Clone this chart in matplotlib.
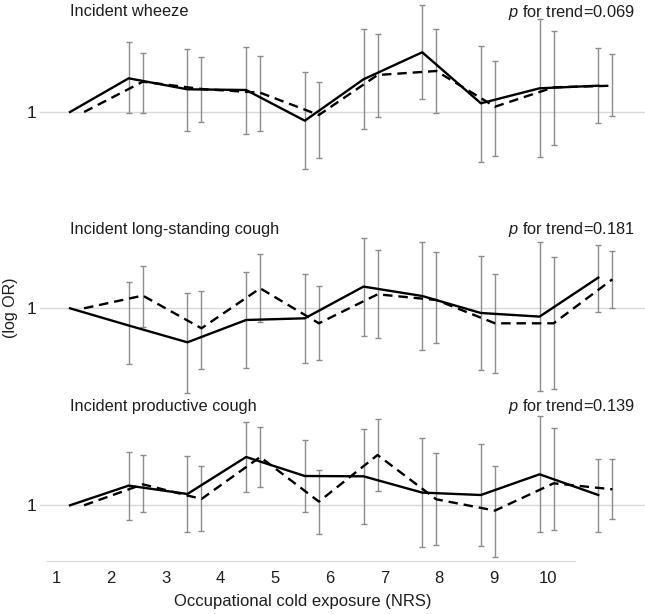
import numpy as np
import matplotlib
matplotlib.use('Agg')
import matplotlib.pyplot as plt

plt.rcParams['font.family'] = ['Liberation Sans', 'DejaVu Sans']
plt.rcParams['mathtext.fontset'] = 'custom'
plt.rcParams['mathtext.it'] = 'Liberation Sans:italic'
plt.rcParams['mathtext.rm'] = 'Liberation Sans'

# occupational cold exposure, NRS 1..10 (1 = reference)
nrs = np.arange(1, 11)
tick_labels = [str(i) for i in nrs]

# log OR, solid = model 1, dashed = model 2
wheeze_solid = np.array([0, 0.337, 0.227, 0.22, -0.087, 0.327, 0.597, 0.087, 0.237, 0.263])
wheeze_solid_lo = np.array([0, -0.013, -0.187, -0.22, -0.573, -0.173, 0.127, -0.503, -0.447, -0.113])
wheeze_solid_hi = np.array([0, 0.697, 0.63, 0.653, 0.403, 0.827, 1.067, 0.663, 0.927, 0.637])
wheeze_dash = np.array([0, 0.303, 0.23, 0.193, -0.03, 0.37, 0.41, 0.053, 0.247, 0.263])
wheeze_dash_lo = np.array([0, -0.007, -0.097, -0.19, -0.463, -0.047, -0.007, -0.437, -0.333, -0.04])
wheeze_dash_hi = np.array([0, 0.593, 0.553, 0.563, 0.303, 0.783, 0.827, 0.513, 0.81, 0.577])

cough_solid = np.array([0, -0.172, -0.34, -0.117, -0.10, 0.217, 0.123, -0.047, -0.083, 0.307])
cough_solid_lo = np.array([0, -0.56, -0.843, -0.60, -0.543, -0.277, -0.417, -0.617, -0.823, -0.04])
cough_solid_hi = np.array([0, 0.26, 0.157, 0.36, 0.34, 0.70, 0.667, 0.523, 0.66, 0.633])
cough_dash = np.array([0, 0.127, -0.20, 0.20, -0.15, 0.14, 0.083, -0.15, -0.15, 0.29])
cough_dash_lo = np.array([0, -0.183, -0.607, -0.14, -0.52, -0.30, -0.35, -0.65, -0.81, 0.0])
cough_dash_hi = np.array([0, 0.427, 0.177, 0.547, 0.22, 0.583, 0.567, 0.343, 0.517, 0.577])

prod_solid = np.array([0, 0.197, 0.113, 0.483, 0.293, 0.29, 0.127, 0.103, 0.31, 0.103])
prod_solid_lo = np.array([0, -0.147, -0.27, 0.133, -0.07, -0.183, -0.413, -0.407, -0.27, -0.263])
prod_solid_hi = np.array([0, 0.537, 0.493, 0.83, 0.65, 0.76, 0.67, 0.617, 0.893, 0.463])
prod_dash = np.array([0, 0.21, 0.063, 0.483, 0.037, 0.503, 0.06, -0.053, 0.22, 0.16])
prod_dash_lo = np.array([0, -0.07, -0.257, 0.187, -0.287, 0.143, -0.397, -0.517, -0.25, -0.137])
prod_dash_hi = np.array([0, 0.503, 0.39, 0.78, 0.357, 0.86, 0.52, 0.397, 0.77, 0.46])

titles = ['Incident wheeze', 'Incident long-standing cough', 'Incident productive cough']
p_trend = ['0.069', '0.181', '0.139']

W, H = 645, 614
PX_UNIT = 100.0      # pixels per log OR unit
X0, DX = 70.0, 58.7  # pixel of NRS 1 and step
SHIFT = 0.24
TXT = '#1e1e1e'

fig = plt.figure(figsize=(W / 100, H / 100), dpi=100)


def px_axes(left, top, right, bottom):
    return fig.add_axes([left / W, 1 - bottom / H, (right - left) / W, (bottom - top) / H])


panels = [
    (wheeze_solid, wheeze_solid_lo, wheeze_solid_hi, wheeze_dash, wheeze_dash_lo, wheeze_dash_hi, 0, 200, 112.0, 12),
    (cough_solid, cough_solid_lo, cough_solid_hi, cough_dash, cough_dash_lo, cough_dash_hi, 200, 398, 308.3, 230),
    (prod_solid, prod_solid_lo, prod_solid_hi, prod_dash, prod_dash_lo, prod_dash_hi, 398, 561, 505.3, 406),
]

xlim = (1 + (40 - X0) / DX, 1 + (W - X0) / DX)

for i, (s, slo, shi, d, dlo, dhi, top, bot, ref, ty) in enumerate(panels):
    ax = px_axes(40, top, W, bot)
    ax.set_xlim(*xlim)
    ax.set_ylim(-(bot - ref) / PX_UNIT, (ref - top) / PX_UNIT)
    for sp in ax.spines.values():
        sp.set_visible(False)
    ax.set_xticks([])
    ax.set_yticks([0])
    ax.set_yticklabels(['1'])
    ax.tick_params(axis='y', length=0, pad=2.5, labelsize=12.5, labelcolor=TXT)

    ax.axhline(0, color='#d9d9d9', lw=1, zorder=1)

    ax.errorbar(nrs[1:], s[1:], yerr=[s[1:] - slo[1:], shi[1:] - s[1:]], fmt='none',
                ecolor='#8c8c8c', elinewidth=1, capsize=2, capthick=1, zorder=2)
    ax.errorbar(nrs[1:] + SHIFT, d[1:], yerr=[d[1:] - dlo[1:], dhi[1:] - d[1:]], fmt='none',
                ecolor='#8c8c8c', elinewidth=1, capsize=2, capthick=1, zorder=2)
    ax.plot(nrs, s, color='black', lw=1.7, zorder=3)
    ax.plot(nrs + SHIFT, d, color='black', lw=1.7, ls=(0, (4, 2.5)), zorder=3)

    yf = (bot - ty) / (bot - top)
    tr = ax.get_xaxis_transform()
    ax.text(1.0, yf, titles[i], transform=tr, ha='left', va='center', fontsize=11.8, color=TXT)
    ax.text(1 + (635 - X0) / DX, yf, r'$p$ for trend=' + p_trend[i], transform=tr,
            ha='right', va='center', fontsize=11.8, color=TXT)

# category axis at the bottom (labels are spaced on their own grid)
axx = fig.add_axes([47 / W, 1 - 561 / H, (575 - 47) / W, 0.0001])
T0, TD = 56.7, 54.6
axx.set_xlim(1 + (47 - T0) / TD, 1 + (575 - T0) / TD)
axx.set_yticks([])
axx.set_xticks(nrs)
axx.set_xticklabels(tick_labels)
for k in ['top', 'left', 'right']:
    axx.spines[k].set_visible(False)
axx.spines['bottom'].set_color('#d9d9d9')
axx.tick_params(axis='x', length=0, pad=7.5, labelsize=12, labelcolor=TXT)
axx.patch.set_visible(False)

fig.text(303 / W, 1 - 601.5 / H, 'Occupational cold exposure (NRS)', ha='center', va='center',
         fontsize=12, color=TXT)
fig.text(11 / W, 1 - 308 / H, '(log OR)', rotation=90, ha='center', va='center',
         fontsize=11.5, color=TXT)

fig.savefig('out.png', dpi=100)
